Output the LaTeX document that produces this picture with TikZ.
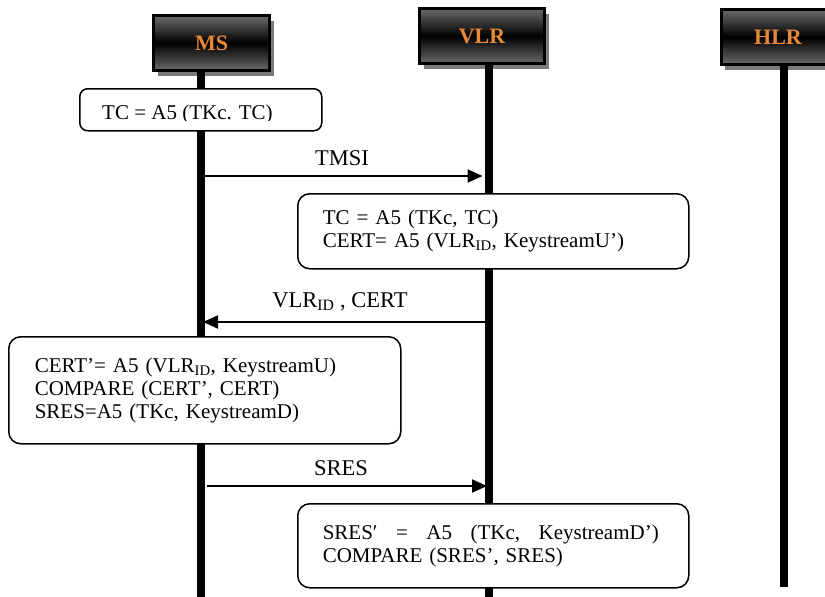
\documentclass[tikz,border=0pt]{standalone}
\usepackage{fontspec}
\setmainfont{Liberation Serif}
\usetikzlibrary{arrows.meta,shadows}
\definecolor{hdrorange}{HTML}{E8893A}
\definecolor{hdrgray}{HTML}{6A6A6A}
\definecolor{shadowgray}{HTML}{7A7A7A}
\begin{document}
\begin{tikzpicture}[x=1pt,y=-1pt,
  header/.style={draw=black, line width=3pt, top color=hdrgray, bottom color=hdrgray, middle color=black,
    drop shadow={shadow xshift=4pt, shadow yshift=-5pt, fill=shadowgray, opacity=1},
    font=\fontsize{22}{26}\selectfont\bfseries, text=hdrorange, minimum height=55pt, inner sep=0pt},
  life/.style={line width=8pt},
  msg/.style={line width=2pt, -{Triangle[length=15pt,width=13pt]}},
  lbl/.style={font=\fontsize{22.5}{26}\selectfont, anchor=base, inner sep=0pt},
  note/.style={draw=black, line width=1.5pt, rounded corners=12pt, fill=white, align=left,
    font=\fontsize{21}{23}\selectfont, inner ysep=0pt, anchor=north west}]
\useasboundingbox (0,0) rectangle (825,597);

% headers
\node[header, minimum width=116pt] (ms) at (211.5,43) {MS};
\node[header, minimum width=125pt] (vlr) at (482,36) {VLR};
\node[header, minimum width=114pt] (hlr) at (778,37) {HLR};

% lifelines
\coordinate (msend) at (201,597);
\coordinate (vlrend) at (489,597);
\coordinate (hlrend) at (784,587);
\draw[life] (ms.south -| msend) -- (msend);
\draw[life] (vlr.south -| vlrend) -- (vlrend);
\draw[life] (hlr.south -| hlrend) -- (hlrend);

% box 1 (text clipped at the bottom)
\node[draw=black, line width=1.5pt, rounded corners=8pt, fill=white, minimum width=242pt,
      minimum height=42pt, anchor=north west, inner sep=0pt] (b1) at (79,88) {};
\begin{scope}
  \clip (79,88) rectangle (321,120);
  \node[font=\fontsize{21}{23}\selectfont, anchor=base west, inner sep=0pt] (t1) at (102,119) {TC = A5 (TKc. TC)};
\end{scope}

% TMSI
\coordinate (m1a) at (205,176);
\coordinate (m1b) at (482.5,176);
\draw[msg] (m1a) -- (m1b);
\node[lbl] (ltmsi) at (342,165) {TMSI};

% box 2
\node[note, text width=341pt, inner xsep=25pt, minimum height=75pt] (b2) at (297,193)
  {TC = A5 (TKc, TC)\\CERT= A5 (VLR\textsubscript{ID}, KeystreamU’)};

% VLR_ID, CERT
\coordinate (m2a) at (485,322);
\coordinate (m2b) at (203,322);
\draw[msg] (m2a) -- (m2b);
\node[lbl] (lcert) at (340,307) {VLR\textsubscript{ID} , CERT};

% box 3
\node[note, text width=340pt, inner xsep=26pt, minimum height=107pt] (b3) at (8,336)
  {CERT’= A5 (VLR\textsubscript{ID}, KeystreamU)\\COMPARE (CERT’, CERT)\\SRES=A5 (TKc, KeystreamD)};

% SRES
\coordinate (m3a) at (207,486);
\coordinate (m3b) at (487,486);
\draw[msg] (m3a) -- (m3b);
\node[lbl] (lsres) at (341,475) {SRES};

% box 4
\node[note, text width=341pt, inner xsep=25pt, minimum height=84pt] (b4) at (297,503)
  {\hbox to 336pt{SRES′\hfill=\hfill A5\hfill(TKc,\hfill KeystreamD’)}\\COMPARE (SRES’, SRES)};
\end{tikzpicture}
\end{document}
